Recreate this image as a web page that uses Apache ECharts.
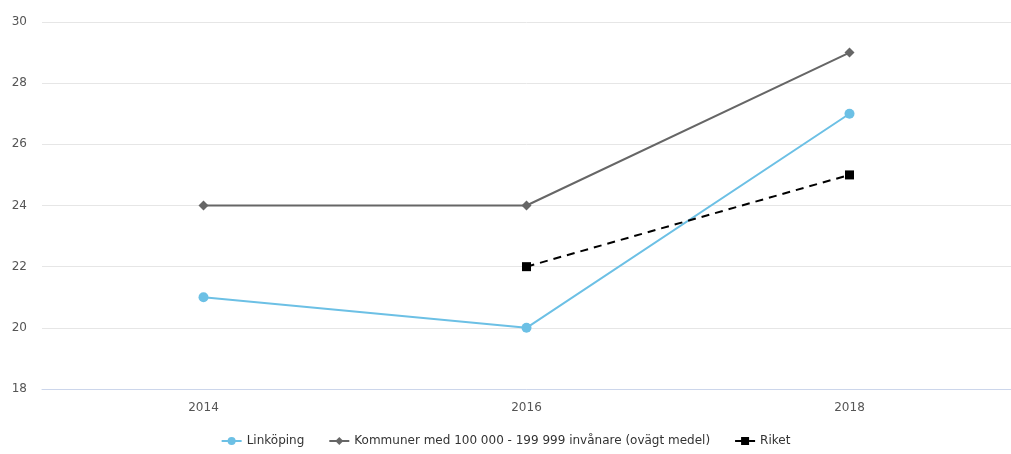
<!DOCTYPE html>
<html><head><meta charset="utf-8">
<script src="https://cdn.jsdelivr.net/npm/echarts@6/dist/echarts.min.js"></script>
<style>html,body{margin:0;padding:0;background:#fff}#c{width:1011px;height:454px}</style>
</head><body><div id="c"></div>
<script>
const categories = ['2014', '2016', '2018'];
const linkoping = [21, 20, 27];
const kommuner = [24, 24, 29];
const riket = [null, 22, 25];
const seriesNames = ['Linköping', 'Kommuner med 100 000 - 199 999 invånare (ovägt medel)', 'Riket'];

const chart = echarts.init(document.getElementById('c'), null, {renderer: 'canvas'});
const font = 'DejaVu Sans, sans-serif';
chart.setOption({
  animation: false,
  grid: {left: 42, right: 0, top: 22, bottom: 65, containLabel: false},
  legend: {
    bottom: 2, left: 'center', itemGap: 24, itemWidth: 20, itemHeight: 10,
    textStyle: {fontFamily: font, fontSize: 12, color: '#333'},
    data: seriesNames
  },
  xAxis: {
    type: 'category', data: categories, boundaryGap: true,
    axisLine: {lineStyle: {color: '#ccd6eb'}},
    axisTick: {show: false},
    axisLabel: {fontFamily: font, fontSize: 12, color: '#555', margin: 13}
  },
  yAxis: {
    type: 'value', min: 18, max: 30, interval: 2,
    axisLabel: {fontFamily: font, fontSize: 12, color: '#555', margin: 15},
    splitLine: {lineStyle: {color: '#e6e6e6'}},
    axisLine: {show: false}, axisTick: {show: false}
  },
  series: [
    {name: seriesNames[0], type: 'line', data: linkoping, symbol: 'circle', symbolSize: 10,
     lineStyle: {color: '#6cc0e5', width: 2}, itemStyle: {color: '#6cc0e5'}},
    {name: seriesNames[1], type: 'line', data: kommuner, symbol: 'diamond', symbolSize: 10,
     lineStyle: {color: '#666666', width: 2}, itemStyle: {color: '#666666'}},
    {name: seriesNames[2], type: 'line', data: riket, symbol: 'rect', symbolSize: 9,
     lineStyle: {color: '#000000', width: 2, type: [8, 6]}, itemStyle: {color: '#000000'}}
  ]
});
</script></body></html>
